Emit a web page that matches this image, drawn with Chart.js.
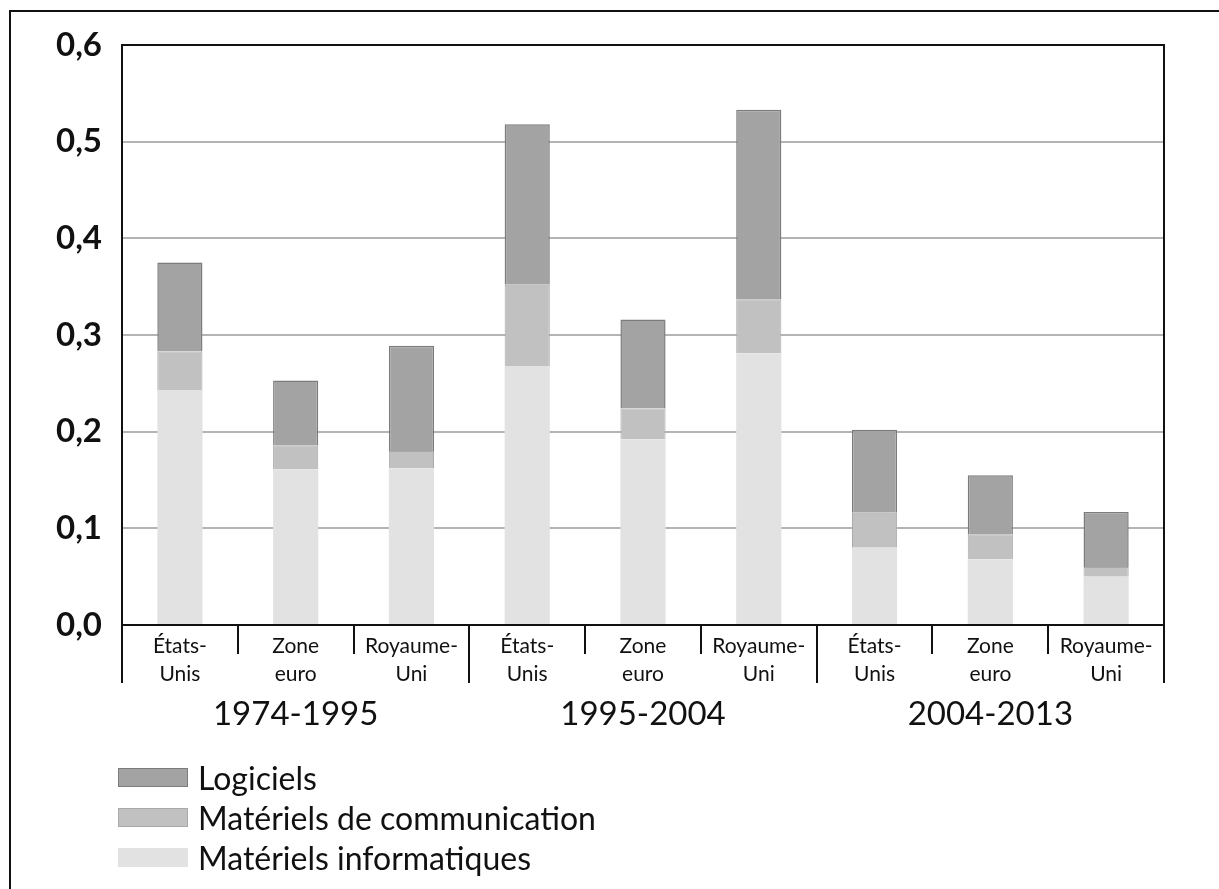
<!DOCTYPE html>
<html>
<head>
<meta charset="utf-8">
<script src="https://cdn.jsdelivr.net/npm/chart.js@4.4.1/dist/chart.umd.min.js"></script>
<style>
  html, body { margin: 0; padding: 0; background: #fff; }
  #wrap { position: relative; width: 1219px; height: 889px; overflow: hidden; }
  #frame { position: absolute; left: 9px; top: 10px; width: 1300px; height: 1000px; border-left: 2px solid #111; border-top: 2px solid #111; }
  #myChart { position: absolute; left: 0; top: 0; }
  #legend { position: absolute; left: 118px; top: 757px; font-family: Lato, "Open Sans", sans-serif; font-size: 32px; color: #111; }
  #legend .row { height: 40px; display: flex; align-items: center; }
  #legend .box { width: 70px; height: 19px; margin-right: 10px; box-sizing: border-box; }
</style>
</head>
<body>
<div id="wrap">
  <div id="frame"></div>
  <canvas id="myChart" width="1219" height="889"></canvas>
  <div id="legend"></div>
</div>
<script>
var categories = [
  ["États-", "Unis"], ["Zone", "euro"], ["Royaume-", "Uni"],
  ["États-", "Unis"], ["Zone", "euro"], ["Royaume-", "Uni"],
  ["États-", "Unis"], ["Zone", "euro"], ["Royaume-", "Uni"]
];
var periods = ["1974-1995", "1995-2004", "2004-2013"];
var yTicks = [0, 0.1, 0.2, 0.3, 0.4, 0.5, 0.6];

var informatiques = [0.243, 0.161, 0.162, 0.268, 0.192, 0.281, 0.080, 0.068, 0.050];
var communication = [0.040, 0.025, 0.018, 0.084, 0.032, 0.056, 0.036, 0.026, 0.010];
var logiciels = [0.092, 0.067, 0.109, 0.166, 0.092, 0.196, 0.086, 0.061, 0.057];

var fontName = "Lato, 'Open Sans', sans-serif";

// separateurs sous l'axe + libelles des periodes
var groupPlugin = {
  id: "groups",
  afterDraw: function (chart) {
    var ctx = chart.ctx;
    var area = chart.chartArea;
    var x = chart.scales.x;
    var w = (area.right - area.left) / categories.length;
    ctx.save();
    ctx.strokeStyle = "#111";
    ctx.lineWidth = 2;
    ctx.strokeRect(area.left, area.top, area.right - area.left, area.bottom - area.top);
    for (var i = 0; i <= categories.length; i++) {
      var px = Math.round(area.left + i * w);
      var len = (i % 3 == 0) ? 58 : 29;
      ctx.beginPath();
      ctx.moveTo(px, area.bottom);
      ctx.lineTo(px, area.bottom + len);
      ctx.stroke();
    }
    ctx.fillStyle = "#111";
    ctx.font = "33px " + fontName;
    ctx.textAlign = "center";
    ctx.textBaseline = "middle";
    for (var g = 0; g < periods.length; g++) {
      ctx.fillText(periods[g], x.getPixelForValue(g * 3 + 1), area.bottom + 89);
    }
    ctx.restore();
  }
};

var ctx = document.getElementById("myChart");
var myChart = new Chart(ctx, {
  type: "bar",
  data: {
    labels: categories,
    datasets: [
      {
        label: "Matériels informatiques",
        data: informatiques,
        backgroundColor: "#e2e2e2",
        borderColor: "#e2e2e2",
        borderWidth: 0
      },
      {
        label: "Matériels de communication",
        data: communication,
        backgroundColor: "#c1c1c1",
        borderColor: "#a9a9a9",
        borderWidth: 1
      },
      {
        label: "Logiciels",
        data: logiciels,
        backgroundColor: "#a3a3a3",
        borderColor: "#7c7c7c",
        borderWidth: 1.5
      }
    ]
  },
  options: {
    responsive: false,
    animation: false,
    layout: { padding: { left: 0, top: 45, right: 55, bottom: 0 } },
    plugins: {
      legend: { display: false },
      tooltip: { enabled: false }
    },
    datasets: {
      bar: { categoryPercentage: 1, barPercentage: 0.39 }
    },
    scales: {
      x: {
        stacked: true,
        grid: { display: false },
        border: { display: true, color: "#111", width: 2 },
        ticks: {
          color: "#111",
          padding: -1,
          maxRotation: 0,
          autoSkip: false,
          font: { family: fontName, size: 21, lineHeight: 1.35 }
        },
        afterFit: function (scale) { scale.height = 264; }
      },
      y: {
        stacked: true,
        min: 0,
        max: 0.6,
        afterBuildTicks: function (scale) {
          scale.ticks = yTicks.map(function (v) { return { value: v }; });
        },
        grid: { color: "#b4b4b4", lineWidth: 2, drawTicks: false },
        border: { display: true, color: "#111", width: 2 },
        ticks: {
          color: "#111",
          padding: 20,
          font: { family: fontName, size: 33, weight: "bold" },
          callback: function (value) { return value.toFixed(1).replace(".", ","); }
        },
        afterFit: function (scale) { scale.width = 122; }
      }
    }
  },
  plugins: [groupPlugin]
});

// legende verticale, Logiciels en haut
var legend = document.getElementById("legend");
var sets = myChart.data.datasets.slice().reverse();
for (var i = 0; i < sets.length; i++) {
  var row = document.createElement("div");
  row.className = "row";
  var box = document.createElement("span");
  box.className = "box";
  box.style.background = sets[i].backgroundColor;
  box.style.border = "1px solid " + sets[i].borderColor;
  var txt = document.createElement("span");
  txt.textContent = sets[i].label;
  row.appendChild(box);
  row.appendChild(txt);
  legend.appendChild(row);
}
</script>
</body>
</html>
